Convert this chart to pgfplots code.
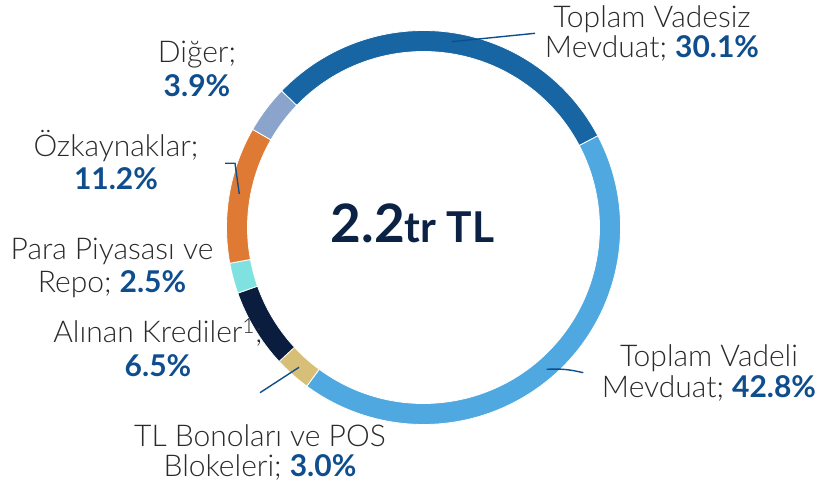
\documentclass[border=0pt]{standalone}
\usepackage{pgfplots}
\usepackage{pgfplotstable}
\pgfplotsset{compat=1.18}
\usepackage{fontspec}
\setmainfont{Lato Light}[BoldFont={Lato Bold}]
\newfontfamily\boldfont{Lato Bold}
\definecolor{cVadesiz}{HTML}{1765A3}
\definecolor{cVadeli}{HTML}{4FA8E0}
\definecolor{cBono}{HTML}{D8BF78}
\definecolor{cKredi}{HTML}{0A1D3E}
\definecolor{cRepo}{HTML}{80E2E0}
\definecolor{cOzk}{HTML}{DE7A33}
\definecolor{cDiger}{HTML}{8BA4CC}
\definecolor{pct}{HTML}{0F4E8E}
\definecolor{txt}{HTML}{2A2A2A}
\definecolor{center}{HTML}{0B2245}
\pgfplotstableread{
val col
30.1 cVadesiz
42.8 cVadeli
3.0 cBono
6.5 cKredi
2.5 cRepo
11.2 cOzk
3.9 cDiger
}\slices
\begin{document}
\begin{tikzpicture}
\begin{axis}[x=1pt,y=1pt,xmin=0,xmax=819,ymin=0,ymax=487,hide axis,clip=false,
  scale only axis]
\path (rel axis cs:0,0) rectangle (rel axis cs:1,1);
\xdef\acur{136.1}
\pgfplotsforeachungrouped \i in {0,...,6}{%
  \pgfplotstablegetelem{\i}{val}\of\slices \let\v=\pgfplotsretval
  \pgfplotstablegetelem{\i}{col}\of\slices \let\c=\pgfplotsretval
  \pgfmathsetmacro\anext{\acur-3.6*\v}%
  \pgfmathsetmacro\aback{\anext+180}%
  \edef\temp{\noexpand\filldraw[fill=\c, draw=white, line width=0.8pt] (axis cs:423.5,259.5) ++(\acur:197pt) arc[start angle=\acur, end angle=\anext, radius=197pt] -- ++(\aback:21pt) arc[start angle=\anext, end angle=\acur, radius=176pt] -- cycle;}%
  \temp
  \xdef\acur{\anext}%
}
% centre text
\node[anchor=base, text=center, inner sep=0pt] at (axis cs:412.5,244) {\boldfont\fontsize{53}{54}\selectfont 2.2\fontsize{42.5}{43}\selectfont tr TL};
% leader lines
\draw[pct, line width=1.4pt] (axis cs:451.7,445.3) -- (axis cs:535,453.7);
\draw[pct, line width=1.4pt] (axis cs:546.7,117.7) to[bend left=8] (axis cs:583.3,114.3);
\draw[pct, line width=1.4pt] (axis cs:225,323.7) -- (axis cs:235,323.7) -- (axis cs:239.3,293);
\draw[pct, line width=1.4pt] (axis cs:260,94.3) -- (axis cs:299,119.7);
% labels
\tikzset{lab/.style={anchor=base, inner sep=0pt, text=txt, font=\fontsize{30}{32}\selectfont}}
\newcommand{\pc}[1]{{\boldfont\color{pct}#1}}
\node[lab] at (axis cs:652,459) {Toplam Vadesiz};
\node[lab] at (axis cs:652,429) {Mevduat; \pc{30.1\%}};
\node[lab] at (axis cs:709,120) {Toplam Vadeli};
\node[lab] at (axis cs:709,89) {Mevduat; \pc{42.8\%}};
\node[lab] at (axis cs:197,424) {Diğer;};
\node[lab] at (axis cs:197,390) {\pc{3.9\%}};
\node[lab] at (axis cs:116,330) {Özkaynaklar;};
\node[lab] at (axis cs:116,297) {\pc{11.2\%}};
\node[lab] at (axis cs:112,227) {Para Piyasası ve};
\node[lab] at (axis cs:112,194) {Repo; \pc{2.5\%}};
\node[lab] at (axis cs:158,144) {Alınan Krediler\textsuperscript{1};};
\node[lab] at (axis cs:158,110) {\pc{6.5\%}};
\node[lab] at (axis cs:260,40) {TL Bonoları ve POS};
\node[lab] at (axis cs:260,10) {Blokeleri; \pc{3.0\%}};
\end{axis}
\end{tikzpicture}
\end{document}
